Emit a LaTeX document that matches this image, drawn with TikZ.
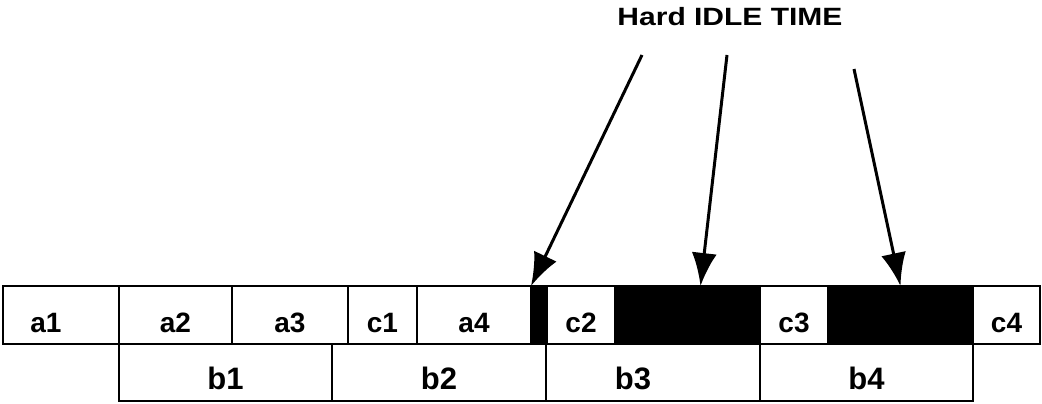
\documentclass[tikz,border=0pt]{standalone}
\usepackage{fontspec}
\setmainfont{Liberation Sans}
\newfontfamily\headfont[FakeStretch=1.2]{Liberation Sans}
\usetikzlibrary{positioning,arrows.meta}
\begin{document}
\begin{tikzpicture}[x=1pt,y=-1pt,
	slot/.style={draw,fill=white,line width=2.6pt,inner sep=0pt,outer sep=0pt,minimum height=58pt,text height=34pt,text depth=0pt,font=\bfseries\fontsize{28}{30}\selectfont},
	lower/.style={slot,minimum height=57pt,font=\bfseries\fontsize{31}{33}\selectfont},
	idle/.style={slot,fill=black},
	pointer/.style={line width=3pt,-{Latex[length=33pt,width=25pt]}}]
	\useasboundingbox (0,0) rectangle (1042,404);
	\node[font=\headfont\bfseries\fontsize{25}{28}\selectfont] (title) at (730,17) {Hard IDLE TIME};
	\node[slot,minimum width=116pt,anchor=west] (a1) at (3,315) {a1\hspace*{30pt}};
	\node[slot,minimum width=113pt,right=0pt of a1] (a2) {a2};
	\node[slot,minimum width=116pt,right=0pt of a2] (a3) {a3};
	\node[slot,minimum width=69pt,right=0pt of a3] (c1) {c1};
	\node[slot,minimum width=114pt,right=0pt of c1] (a4) {a4};
	\node[idle,minimum width=16pt,right=0pt of a4] (gap1) {};
	\node[slot,minimum width=68pt,right=0pt of gap1] (c2) {c2};
	\node[idle,minimum width=145pt,right=0pt of c2] (gap2) {};
	\node[slot,minimum width=68pt,right=0pt of gap2] (c3) {c3};
	\node[idle,minimum width=145pt,right=0pt of c3] (gap3) {};
	\node[slot,minimum width=67pt,right=0pt of gap3] (c4) {c4};
	\node[lower,minimum width=213pt,anchor=north west] (b1) at (a2.south west) {b1};
	\node[lower,minimum width=214pt,right=0pt of b1] (b2) {b2};
	\node[lower,minimum width=214pt,right=0pt of b2] (b3) {b3\hspace*{40pt}};
	\node[lower,minimum width=213pt,right=0pt of b3] (b4) {b4};
	\coordinate (s1) at (642,55);
	\coordinate (s2) at (727,55);
	\coordinate (s3) at (854,69);
	\draw[pointer] (s1) -- (gap1.north west);
	\draw[pointer] (s2) -- ([xshift=13pt]gap2.north);
	\draw[pointer] (s3) -- (gap3.north);
\end{tikzpicture}
\end{document}
